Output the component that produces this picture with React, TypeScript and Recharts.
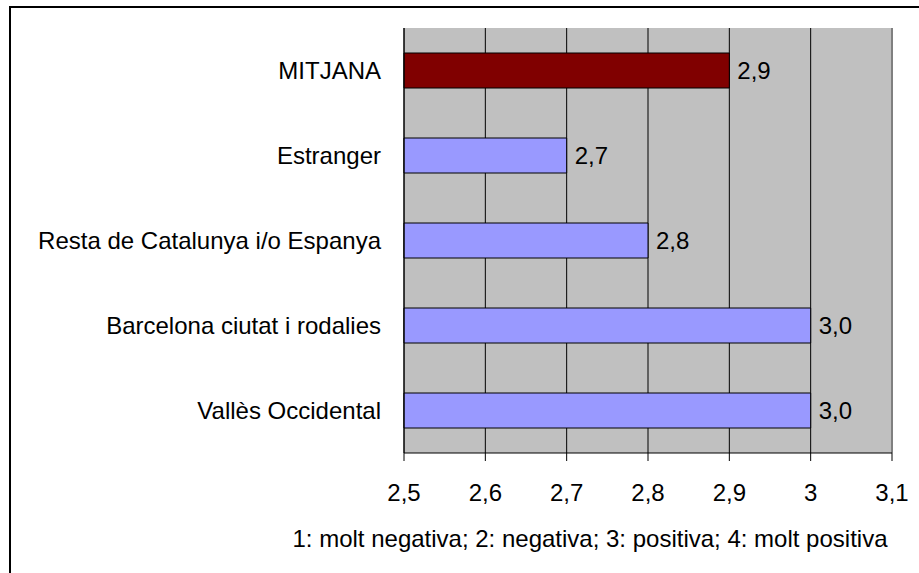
import { BarChart, Bar, XAxis, YAxis, CartesianGrid, Cell, LabelList, ReferenceLine } from 'recharts';

// categories, top to bottom as drawn
const categories = ['MITJANA', 'Estranger', 'Resta de Catalunya i/o Espanya', 'Barcelona ciutat i rodalies', 'Vallès Occidental'];
const scores = [2.9, 2.7, 2.8, 3.0, 3.0];
const barColors = ['#800000', '#9999FF', '#9999FF', '#9999FF', '#9999FF'];
const xTicks = [2.5, 2.6, 2.7, 2.8, 2.9, 3.0, 3.1];
// boundaries between categories, for the Excel-style tick marks
const bandTicks = [0, 1, 2, 3, 4, 5];
const footnote = '1: molt negativa; 2: negativa; 3: positiva; 4: molt positiva';

const data = categories.map((name, i) => ({ name, score: scores[i] }));

const FONT = '"Liberation Sans", Arial, sans-serif';
const FS = 24;
const comma = (v: number) => String(v).replace('.', ',');

export default function App() {
  return (
    <div style={{ position: 'absolute', left: 0, top: 0, width: 919, height: 573, overflow: 'hidden', background: '#fff' }}>
      {/* chart frame, runs past the right and bottom edges like the source */}
      <div style={{ position: 'absolute', left: 9, top: 6, width: 1000, height: 1000, border: '2px solid #000' }} />
      <div style={{ position: 'absolute', left: 0, top: 0 }}>
        <BarChart
          width={919}
          height={573}
          data={data}
          layout="vertical"
          margin={{ top: 28, right: 27, left: 0, bottom: 0 }}
          style={{ fontFamily: FONT }}
        >
          <CartesianGrid horizontal={false} stroke="#000" fill="#C0C0C0" fillOpacity={1} />
          <XAxis
            type="number"
            domain={[2.5, 3.1]}
            ticks={xTicks}
            interval={0}
            height={120}
            tickSize={8}
            tickMargin={23}
            tickFormatter={comma}
            axisLine={{ stroke: '#000' }}
            tickLine={{ stroke: '#000' }}
            tick={{ fill: '#000', fontSize: FS, fontFamily: FONT }}
            label={{
              content: (props: any) => {
                const vb = props.viewBox;
                return (
                  <text
                    x={vb.x + vb.width / 2 - 58}
                    y={vb.y + 94}
                    textAnchor="middle"
                    fontSize={FS}
                    fontFamily={FONT}
                    fill="#000"
                  >
                    {footnote}
                  </text>
                );
              },
            }}
          />
          <YAxis yAxisId="cat" type="category" dataKey="name" hide />
          <YAxis
            yAxisId="bands"
            type="number"
            domain={[0, 5]}
            ticks={bandTicks}
            interval={0}
            width={404}
            tickSize={8}
            tick={false}
            axisLine={{ stroke: '#000' }}
            tickLine={{ stroke: '#000' }}
          />
          <ReferenceLine x={3.1} yAxisId="bands" stroke="#808080" strokeWidth={2} />
          <ReferenceLine y={5} yAxisId="bands" stroke="#808080" strokeWidth={2} />
          <Bar yAxisId="cat" dataKey="score" barSize={35} stroke="#000" strokeWidth={1} isAnimationActive={false}>
            {data.map((d, i) => (
              <Cell key={d.name} fill={barColors[i]} />
            ))}
            <LabelList
              dataKey="score"
              position="right"
              offset={8}
              formatter={(v: any) => Number(v).toFixed(1).replace('.', ',')}
              style={{ fill: '#000', fontSize: FS, fontFamily: FONT }}
            />
            <LabelList
              dataKey="name"
              position="left"
              offset={23}
              style={{ fill: '#000', fontSize: FS, fontFamily: FONT }}
            />
          </Bar>
        </BarChart>
      </div>
    </div>
  );
}
